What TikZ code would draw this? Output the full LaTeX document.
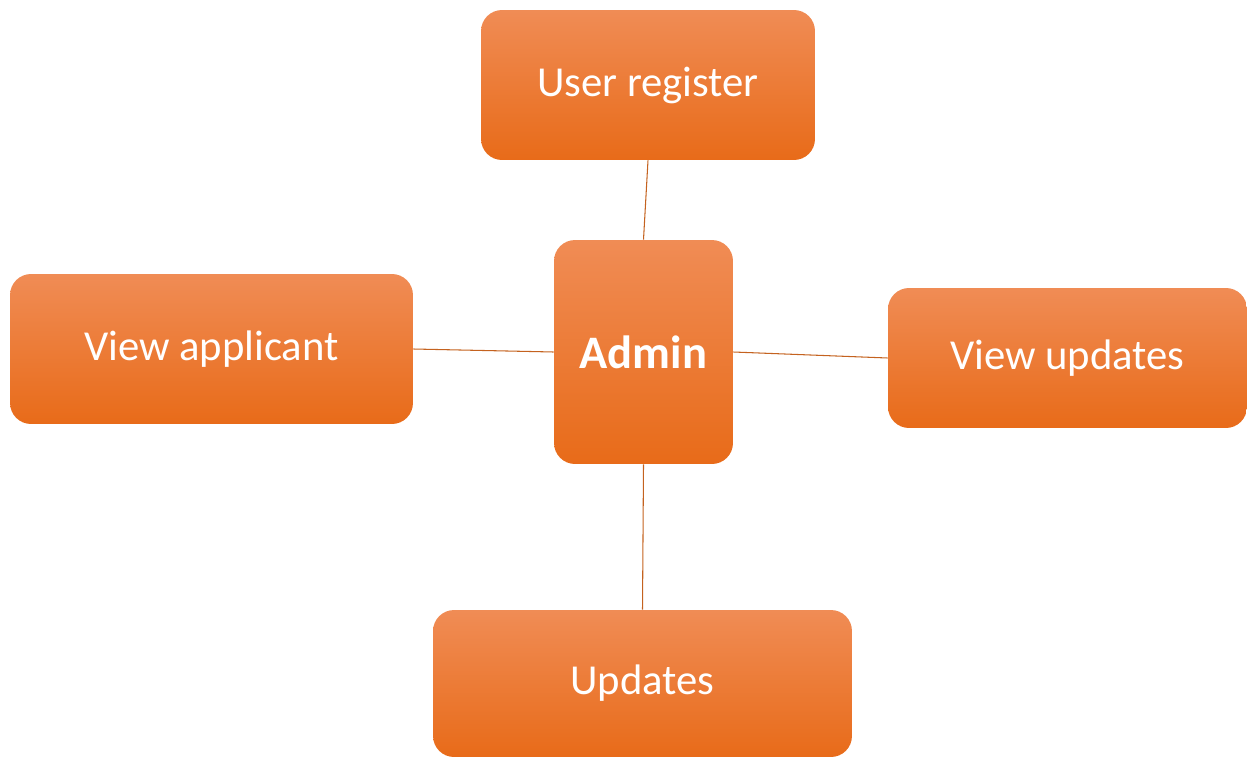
\documentclass[tikz,border=0pt]{standalone}
\usepackage{fontspec}
\setmainfont{Carlito}
\usepackage{tikz}
\usetikzlibrary{positioning}

\definecolor{orTop}{HTML}{F08C55}
\definecolor{orMid}{HTML}{F47E30}
\definecolor{orBot}{HTML}{E86B19}
\definecolor{linkc}{HTML}{C4621F}

\tikzset{
  task/.style={rounded corners=0.42cm, top color=orTop, middle color=orMid,
    bottom color=orBot, draw=none, text=white, align=center,
    font=\fontsize{24.3}{29}\selectfont, inner sep=0pt},
  link/.style={draw=linkc, line width=0.6pt}
}

\begin{document}
\begin{tikzpicture}[x=0.02cm,y=-0.02cm]
\useasboundingbox (0,0) rectangle (1247,757);
%% boxes
\node[task, minimum width=6.68cm, minimum height=3.0cm] (register) at (648,85) {User register};
\node[task, minimum width=3.58cm, minimum height=4.48cm,
      font=\fontsize{26.5}{30}\selectfont\bfseries] (admin) at (643.5,352) {Admin};
\node[task, minimum width=8.06cm, minimum height=3.0cm] (applicant) at (211.5,349) {View applicant};
\node[task, minimum width=7.18cm, minimum height=2.8cm] (viewupd) at (1067.5,358) {View updates};
\node[task, minimum width=8.38cm, minimum height=2.94cm] (updates) at (642.5,683.5) {Updates};
%% links
\draw[link] (register.south) -- (admin.north);
\draw[link] (applicant.east) -- (admin.west);
\draw[link] (admin.east) -- (viewupd.west);
\draw[link] (admin.south) -- (updates.north);
\end{tikzpicture}
\end{document}
